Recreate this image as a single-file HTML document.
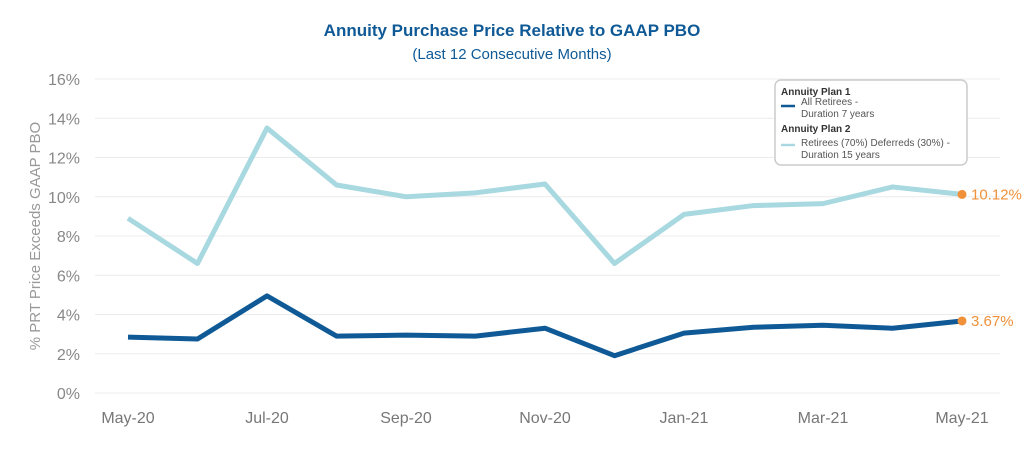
<!DOCTYPE html>
<html><head><meta charset="utf-8"><style>
body{margin:0;background:#fff;font-family:"Liberation Sans",sans-serif}
svg{display:block}
</style></head><body>
<svg width="1024" height="455">
<text x="512" y="36" text-anchor="middle" font-size="17" font-weight="bold" fill="#0f5a96">Annuity Purchase Price Relative to GAAP PBO</text>
<text x="512" y="59" text-anchor="middle" font-size="15" fill="#0f5a96">(Last 12 Consecutive Months)</text>
<text transform="translate(40,236) rotate(-90)" text-anchor="middle" font-size="15" fill="#999">% PRT Price Exceeds GAAP PBO</text>
<g id="grid"></g><g id="ylab"></g><g id="xlab"></g><g id="series"></g>
<g>
<rect x="775" y="80" width="192" height="85" rx="6" fill="#fff" stroke="#ccc" stroke-width="1.5"/>
<text x="781" y="95" font-size="10" font-weight="bold" fill="#333">Annuity Plan 1</text>
<line x1="781" x2="795" y1="106" y2="106" stroke="#0f5a96" stroke-width="2.5"/>
<text x="801" y="105" font-size="10" fill="#555">All Retirees -</text>
<text x="801" y="117" font-size="10" fill="#555">Duration 7 years</text>
<text x="781" y="132" font-size="10" font-weight="bold" fill="#333">Annuity Plan 2</text>
<line x1="781" x2="795" y1="145" y2="145" stroke="#a8d8e0" stroke-width="2.5"/>
<text x="801" y="146" font-size="10" fill="#555">Retirees (70%) Deferreds (30%) -</text>
<text x="801" y="158" font-size="10" fill="#555">Duration 15 years</text>
</g>
</svg>
<script>
const months=["May-20","Jun-20","Jul-20","Aug-20","Sep-20","Oct-20","Nov-20","Dec-20","Jan-21","Feb-21","Mar-21","Apr-21","May-21"];
const plan2=[8.9,6.6,13.5,10.6,10.0,10.2,10.65,6.6,9.1,9.55,9.65,10.5,10.12];
const plan1=[2.85,2.75,4.95,2.9,2.95,2.9,3.3,1.9,3.05,3.35,3.45,3.3,3.67];
const yTicks=[0,2,4,6,8,10,12,14,16];
const NS="http://www.w3.org/2000/svg";
const x=i=>128+i*(962-128)/(months.length-1);
const y=v=>393-v*(393-79)/16;
function mk(t,a,p){const e=document.createElementNS(NS,t);for(const k in a)e.setAttribute(k,a[k]);document.getElementById(p).appendChild(e);return e;}
yTicks.forEach(v=>{
 const l=mk('line',{x1:95,x2:1000,y1:y(v),y2:y(v),stroke:'#ececec','stroke-width':1},'grid');
 
 
 const t=mk('text',{x:80,y:y(v)+6,'text-anchor':'end','font-size':16,fill:'#888'},'ylab');t.textContent=v+'%';
 
 
});
months.forEach((m,i)=>{if(i%2)return;
 const t=mk('text',{x:x(i),y:423,'text-anchor':'middle','font-size':16,fill:'#777'},'xlab');t.textContent=m;
 
 
});
function line(d,c,name){
 const p=mk('polyline',{points:d.map((v,i)=>x(i)+','+y(v)).join(' '),fill:'none',stroke:c,'stroke-width':5,'stroke-linejoin':'round'},'series');
 
 
 const n=d.length-1;
 const c2=mk('circle',{cx:x(n),cy:y(d[n]),r:4.5,fill:'#f0913a'},'series');
 
 
 const t=mk('text',{x:x(n)+9,y:y(d[n])+5,'font-size':15,fill:'#f0913a'},'series');t.textContent=d[n].toFixed(2)+'%';
 
 
}
line(plan2,'#a8d8e0','plan2-line');
line(plan1,'#0f5a96','plan1-line');
</script>
</body></html>
